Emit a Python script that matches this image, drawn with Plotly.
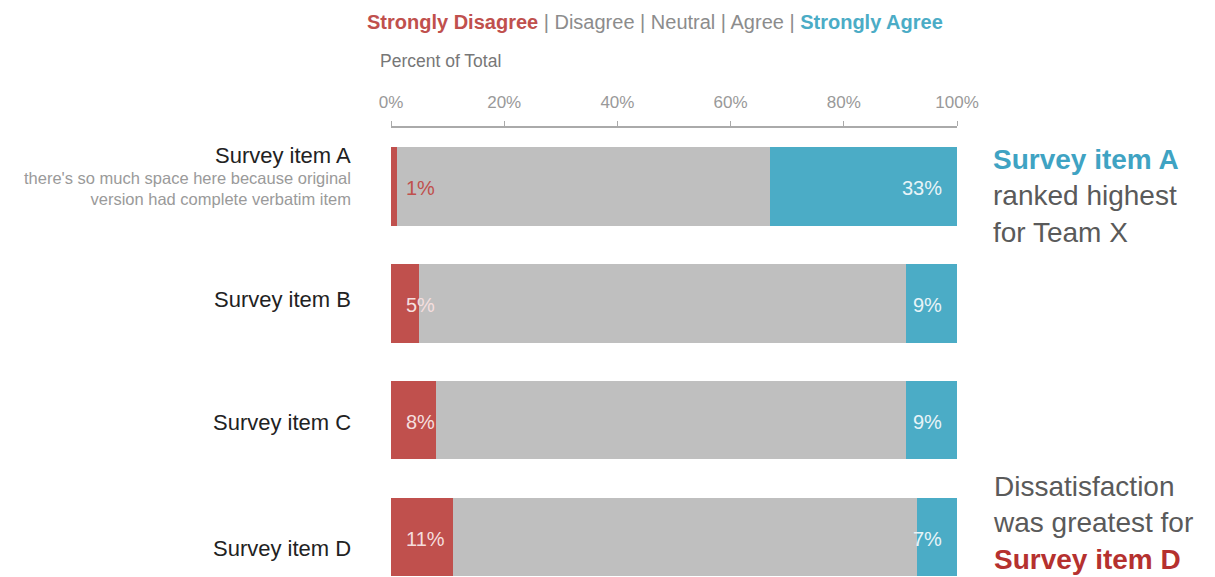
import plotly.graph_objects as go

# ---- data ----
items = ["Survey item A", "Survey item B", "Survey item C", "Survey item D"]
strongly_disagree = [1, 5, 8, 11]
middle_combined = [66, 86, 83, 82]   # Disagree + Neutral + Agree (shown in one grey)
strongly_agree = [33, 9, 9, 7]
tick_values = [0, 20, 40, 60, 80, 100]
tick_labels = ["0%", "20%", "40%", "60%", "80%", "100%"]
item_a_note = "there's so much space here because original<br>version had complete verbatim item"

# ---- styles ----
RED = "#c0504d"
BLUE = "#4bacc6"
GREY = "#bfbfbf"
FONT = "Arial"
label_yshift = [31, 4, -2, -11]
red_label_colors = [RED, "#f5dede", "#f5dede", "#f5dede"]

fig = go.Figure()
fig.add_trace(go.Bar(y=items, x=strongly_disagree, orientation="h", name="Strongly Disagree",
                     marker=dict(color=RED, line=dict(width=0)), width=0.667))
fig.add_trace(go.Bar(y=items, x=middle_combined, orientation="h", name="Disagree / Neutral / Agree",
                     marker=dict(color=GREY, line=dict(width=0)), width=0.667))
fig.add_trace(go.Bar(y=items, x=strongly_agree, orientation="h", name="Strongly Agree",
                     marker=dict(color=BLUE, line=dict(width=0)), width=0.667))

ann = []
for i, it in enumerate(items):
    ann.append(dict(x=0, xref="paper", y=it, yref="y", xshift=-38, yshift=label_yshift[i],
                    xanchor="right", yanchor="middle", showarrow=False, text=it,
                    font=dict(family=FONT, size=22, color="#222222")))
    ann.append(dict(x=0, xref="x", y=it, yref="y", xshift=13, yshift=-2,
                    xanchor="left", yanchor="middle", showarrow=False,
                    text=f"{strongly_disagree[i]}%",
                    font=dict(family=FONT, size=20, color=red_label_colors[i])))
    ann.append(dict(x=100, xref="x", y=it, yref="y", xshift=-13, yshift=-2,
                    xanchor="right", yanchor="middle", showarrow=False,
                    text=f"{strongly_agree[i]}%",
                    font=dict(family=FONT, size=20, color="#e8f4f8")))

ann.append(dict(x=0, xref="paper", y=items[0], yref="y", xshift=-38, yshift=-2,
                xanchor="right", yanchor="middle", align="right", showarrow=False,
                text=item_a_note, font=dict(family=FONT, size=16.5, color="#9a9a9a")))

legend_text = (f"<b><span style='color:{RED}'>Strongly Disagree</span></b>"
               " | Disagree | Neutral | Agree | "
               f"<b><span style='color:{BLUE}'>Strongly Agree</span></b>")
ann.append(dict(x=0.466, xref="paper", y=1.236, yref="paper", xanchor="center", yanchor="middle",
                showarrow=False, text=legend_text,
                font=dict(family=FONT, size=20, color="#8c8c8c")))
ann.append(dict(x=0, xref="paper", xshift=-13, y=1.149, yref="paper", xanchor="left",
                yanchor="middle", showarrow=False, text="Percent of Total",
                font=dict(family=FONT, size=17.5, color="#777777")))

ann.append(dict(x=1.0636, xref="paper", xshift=-2, y=0.8486, yref="paper", xanchor="left",
                yanchor="middle", align="left", showarrow=False,
                text="<b><span style='color:#3fa3c3'>Survey item A</span></b><br>ranked highest<br>for Team X",
                font=dict(family=FONT, size=28, color="#5a5a5a")))
ann.append(dict(x=1.0636, xref="paper", xshift=-2, y=0.12, yref="paper", xanchor="left",
                yanchor="middle", align="left", showarrow=False,
                text="Dissatisfaction<br>was greatest for<br><b><span style='color:#b5312f'>Survey item D</span></b>",
                font=dict(family=FONT, size=28, color="#5a5a5a")))

fig.update_layout(
    width=1215, height=577,
    barmode="stack", bargap=0.333,
    showlegend=False,
    plot_bgcolor="white", paper_bgcolor="white",
    margin=dict(l=391, r=258, t=128, b=0),
    annotations=ann,
    xaxis=dict(side="top", range=[0, 100], tickvals=tick_values, ticktext=tick_labels,
               showgrid=False, zeroline=False, showline=True, linecolor="#aaaaaa", linewidth=1.5,
               ticks="outside", ticklen=5, tickcolor="#aaaaaa", ticklabelstandoff=6,
               tickfont=dict(family=FONT, size=17, color="#999999"), fixedrange=True),
    yaxis=dict(range=[3.338, -0.5], showticklabels=False, showgrid=False, zeroline=False,
               showline=False, ticks="", fixedrange=True),
)

fig.write_html("out.html")
